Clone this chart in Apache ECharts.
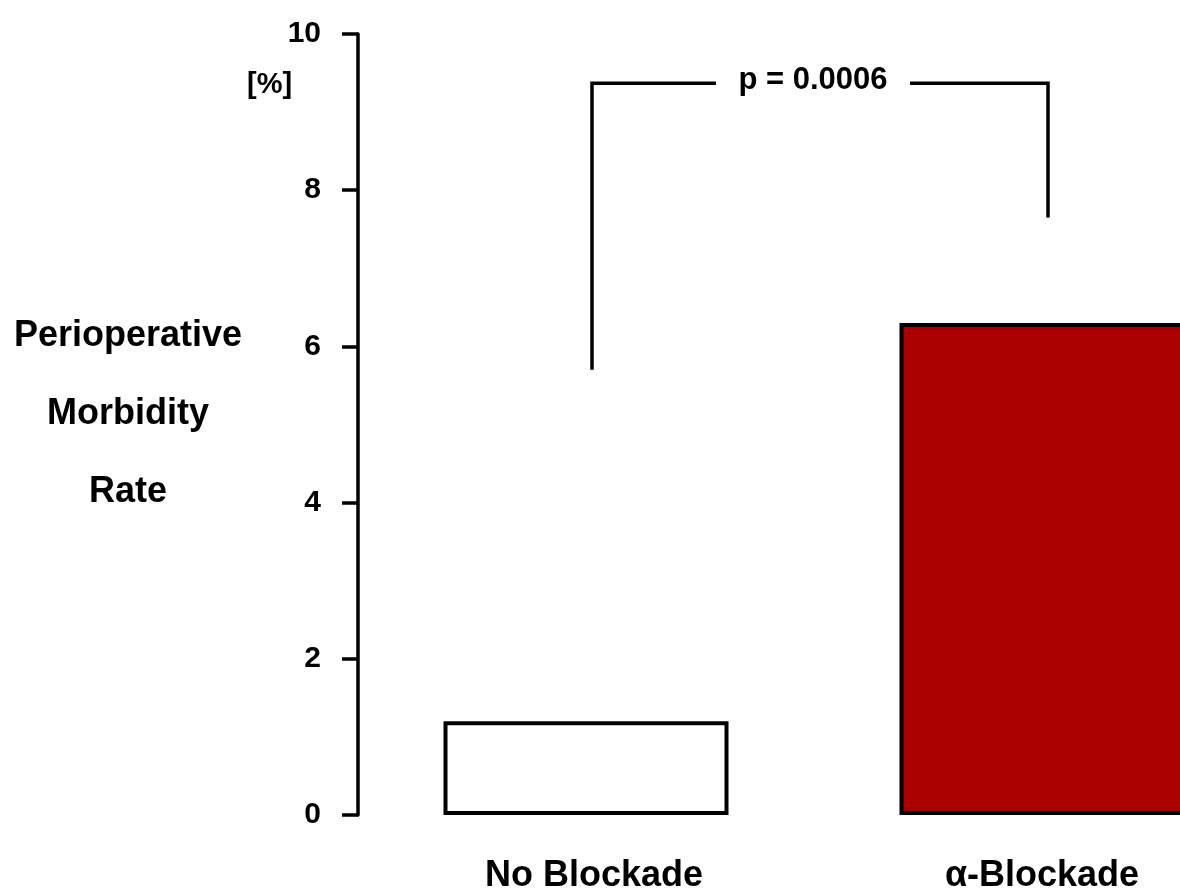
<!DOCTYPE html>
<html><head><meta charset="utf-8">
<script src="https://cdn.jsdelivr.net/npm/echarts@6/dist/echarts.min.js"></script>
<style>html,body{margin:0;padding:0;background:#fff}#c{width:1180px;height:892px}</style>
</head><body><div id="c"></div>
<script>
const categories = ['No Blockade', 'α-Blockade'];
const morbidity = [1.2, 6.3];
const yTicks = [0, 2, 4, 6, 8, 10];
const bracketLow = [5.7, 7.65];
const bracketTop = 9.37;
const pLabel = 'p = 0.0006';
const yTitleLines = ['Perioperative', 'Morbidity', 'Rate'];
const unitLabel = '[%]';

const FONT = '"Liberation Sans", Arial, Helvetica, sans-serif';
const chart = echarts.init(document.getElementById('c'), null, {renderer: 'canvas'});
// category positions on a numeric x scale: one category per unit, half a unit of padding on the left
const catIdx = categories.map((c, i) => i);
const xMin = -0.5, xMax = -0.5 + 822 / 456;
chart.setOption({
  animation: false,
  backgroundColor: '#fff',
  grid: {left: 358, top: 34, bottom: 77, right: 0, containLabel: false, outerBoundsMode: 'none'},
  xAxis: {
    type: 'value', min: xMin, max: xMax,
    splitLine: {show: false},
    axisLine: {show: false, onZero: false}, axisTick: {show: false},
    axisLabel: {
      customValues: catIdx,
      margin: 43, color: '#000', fontFamily: FONT, fontWeight: 'bold', fontSize: 36,
      formatter: (v) => {
        const i = Math.round(v);
        return i === 0 ? '{a|' + categories[i] + '}' : '{b|' + categories[i] + '}';
      },
      rich: {
        a: {fontFamily: FONT, fontWeight: 'bold', fontSize: 36, color: '#000', padding: [0, 0, 0, 16]},
        b: {fontFamily: FONT, fontWeight: 'bold', fontSize: 36, color: '#000'}
      }
    }
  },
  yAxis: {
    type: 'value', min: yTicks[0], max: yTicks[yTicks.length - 1], interval: 2,
    splitLine: {show: false},
    axisLine: {show: true, onZero: false, lineStyle: {color: '#000', width: 3.5}},
    axisTick: {show: true, length: 16, lineStyle: {color: '#000', width: 3.5}},
    axisLabel: {margin: 37, color: '#000', fontFamily: FONT, fontWeight: 'bold', fontSize: 30}
  },
  series: [
    {
      type: 'bar', barWidth: 285, clip: true,
      data: morbidity.map((v, i) => ({
        value: [catIdx[i], v],
        itemStyle: {color: i === 0 ? '#ffffff' : '#aa0000', borderColor: '#000', borderWidth: 4}
      }))
    },
    {
      type: 'custom', clip: false,
      data: [[catIdx[0], bracketLow[0], catIdx[1], bracketLow[1], bracketTop]],
      renderItem: function (params, api) {
        const off = 6;
        const l0 = api.coord([api.value(0), api.value(1)]);
        const r0 = api.coord([api.value(2), api.value(3)]);
        const lt = api.coord([api.value(0), api.value(4)]);
        const lx = l0[0] + off, rx = r0[0] + off, ty = lt[1];
        const mid = (lx + rx) / 2 - 7;
        const gap = 97;
        const st = {stroke: '#000', lineWidth: 3.5, fill: null};
        return {
          type: 'group',
          children: [
            {type: 'polyline', shape: {points: [[lx, l0[1]], [lx, ty], [mid - gap, ty]]}, style: st},
            {type: 'polyline', shape: {points: [[mid + gap, ty], [rx, ty], [rx, r0[1]]]}, style: st},
            {type: 'text', x: mid, y: ty - 3, style: {text: pLabel, fill: '#000', font: 'bold 31px ' + FONT, align: 'center', verticalAlign: 'middle'}}
          ]
        };
      }
    }
  ],
  graphic: [
    {type: 'text', left: 247, top: 70, style: {text: unitLabel, fill: '#000', font: 'bold 29px ' + FONT}},
    {type: 'text', x: 128, y: 414, style: {text: yTitleLines.join('\n'), fill: '#000', font: 'bold 36px ' + FONT, align: 'center', verticalAlign: 'middle', lineHeight: 78}}
  ]
});
</script></body></html>
